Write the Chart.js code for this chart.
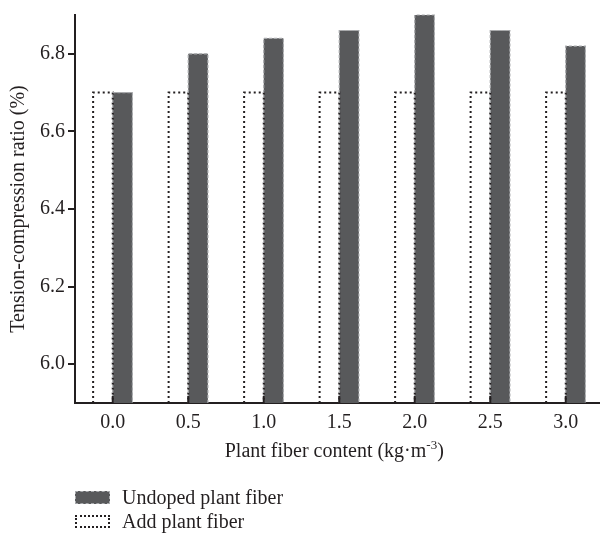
<!DOCTYPE html>
<html>
<head>
<meta charset="utf-8">
<script src="https://cdn.jsdelivr.net/npm/chart.js@4.4.1/dist/chart.umd.min.js"></script>
<style>
  body { margin: 0; overflow: hidden; background: #fff; }
  #wrap { position: relative; width: 610px; height: 539px; }
  .legend { position: absolute; left: 75px; font-family: "Liberation Serif", serif; font-size: 20px; color: #231f20; }
  .legend .row { display: flex; align-items: center; height: 24px; }
  .legend .box { width: 35px; height: 13px; margin-right: 12px; box-sizing: border-box; }
  .legend .dark { background: #58595b; border: 1px dashed #a7a9ac; }
  .legend .dots { border: 2px dotted #231f20; }
</style>
</head>
<body>
<div id="wrap">
  <canvas id="chart" width="610" height="539"></canvas>
  <div class="legend" style="top:485px">
    <div class="row"><div class="box dark"></div>Undoped plant fiber</div>
    <div class="row"><div class="box dots"></div>Add plant fiber</div>
  </div>
</div>
<script>
document.addEventListener("DOMContentLoaded", () => {
  // ================= DATA =================
  const categories = ["0.0", "0.5", "1.0", "1.5", "2.0", "2.5", "3.0"];
  const addFiber = [6.70, 6.70, 6.70, 6.70, 6.70, 6.70, 6.70];
  const undoped = [6.70, 6.80, 6.84, 6.86, 6.90, 6.86, 6.82];
  const yTicks = [6.0, 6.2, 6.4, 6.6, 6.8];

  const ink = "#231f20";
  const serif = "'Liberation Serif', serif";
  const fs = 20;

  // dashed / dotted outlines for the bars (Chart.js bars have no borderDash)
  const barOutlines = {
    id: "barOutlines",
    afterDatasetsDraw(chart) {
      const ctx = chart.ctx;
      const area = chart.chartArea;
      ctx.save();
      ctx.beginPath();
      ctx.rect(area.left, area.top - 2, area.right - area.left, area.bottom - area.top + 2);
      ctx.clip();
      chart.data.datasets.forEach((ds, i) => {
        const meta = chart.getDatasetMeta(i);
        meta.data.forEach(bar => {
          const { x, y, width } = bar.getProps(["x", "y", "width"], true);
          const base = area.bottom;
          const l = x - width / 2, r = x + width / 2;
          ctx.strokeStyle = ds.outlineColor;
          ctx.lineWidth = ds.outlineWidth;
          ctx.setLineDash(ds.outlineDash);
          ctx.beginPath();
          ctx.moveTo(l, base);
          ctx.lineTo(l, y);
          ctx.lineTo(r, y);
          ctx.lineTo(r, base);
          ctx.stroke();
        });
      });
      ctx.restore();
    }
  };

  // inward x ticks + x title with superscript
  const xExtras = {
    id: "xExtras",
    afterDraw(chart) {
      const ctx = chart.ctx;
      const xs = chart.scales.x;
      const area = chart.chartArea;
      ctx.save();
      ctx.strokeStyle = ink;
      ctx.lineWidth = 2;
      xs.ticks.forEach((t, i) => {
        const px = xs.getPixelForTick(i);
        ctx.beginPath();
        ctx.moveTo(px, area.bottom);
        ctx.lineTo(px, area.bottom - 7);
        ctx.stroke();
      });
      // title
      const main = "Plant fiber content (kg·m";
      const sup = "-3";
      const end = ")";
      ctx.fillStyle = ink;
      ctx.textBaseline = "alphabetic";
      ctx.font = fs + "px " + serif;
      const w1 = ctx.measureText(main).width;
      const w3 = ctx.measureText(end).width;
      ctx.font = "13px " + serif;
      const w2 = ctx.measureText(sup).width;
      const x0 = (area.left + area.right) / 2 - (w1 + w2 + w3) / 2 - 5;
      const base = 457;
      ctx.font = fs + "px " + serif;
      ctx.fillText(main, x0, base);
      ctx.font = "13px " + serif;
      ctx.fillText(sup, x0 + w1, base - 8);
      ctx.font = fs + "px " + serif;
      ctx.fillText(end, x0 + w1 + w2, base);
      ctx.restore();
    }
  };

  new Chart(document.getElementById("chart"), {
    type: "bar",
    data: {
      labels: categories,
      datasets: [{
        label: "Add plant fiber",
        data: addFiber,
        backgroundColor: "rgba(0,0,0,0)",
        borderWidth: 0,
        outlineColor: ink,
        outlineWidth: 2,
        outlineDash: [2, 3]
      }, {
        label: "Undoped plant fiber",
        data: undoped,
        backgroundColor: "#58595b",
        borderWidth: 0,
        outlineColor: "#a7a9ac",
        outlineWidth: 1.2,
        outlineDash: [3, 2]
      }]
    },
    options: {
      responsive: false,
      animation: false,
      layout: { padding: { top: 14, right: 6.5, bottom: 86, left: 0 } },
      plugins: { legend: { display: false }, tooltip: { enabled: false } },
      datasets: { bar: { barPercentage: 1, categoryPercentage: 0.52 } },
      scales: {
        x: {
          grid: { display: false, drawTicks: false },
          border: { color: ink, width: 2 },
          ticks: { color: ink, font: { family: serif, size: fs }, padding: 8 },
          afterFit: s => { s.height = 50; }
        },
        y: {
          min: 5.9,
          max: 6.9,
          grid: { drawOnChartArea: false, drawTicks: true, tickLength: 7, color: ink, lineWidth: 2 },
          border: { color: ink, width: 2 },
          afterBuildTicks: s => { s.ticks = yTicks.map(v => ({ value: v })); },
          ticks: {
            color: ink,
            font: { family: serif, size: fs },
            padding: 3,
            callback: v => Number(v).toFixed(1)
          },
          title: {
            display: true,
            text: "Tension-compression ratio (%)",
            color: ink,
            font: { family: serif, size: fs },
            padding: { top: 7, bottom: 0 }
          },
          afterFit: s => { s.width = 75; }
        }
      }
    },
    plugins: [barOutlines, xExtras]
  });
});
</script>
</body>
</html>
